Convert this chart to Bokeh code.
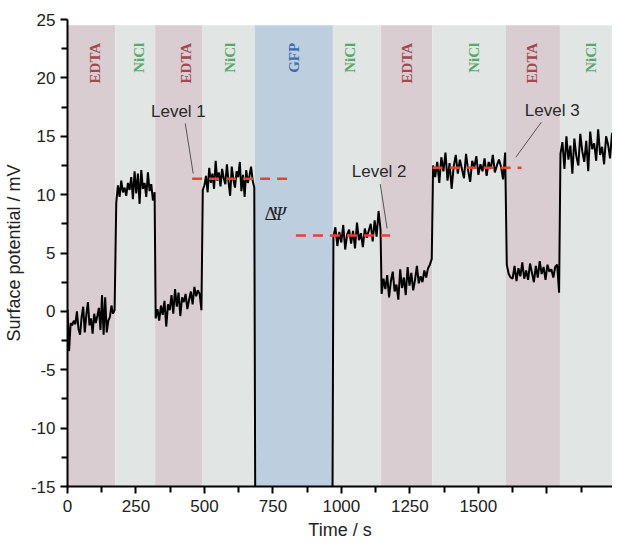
import numpy as np
from bokeh.plotting import figure
from bokeh.models import FixedTicker, Range1d
from bokeh.core.properties import value
from bokeh.embed import file_html
from bokeh.resources import INLINE

# ---------------- data ----------------
band_edges = [0, 174, 320, 491, 684, 969, 1145, 1332, 1601, 1798, 1988]
band_names = ["EDTA", "NiCl", "EDTA", "NiCl", "GFP", "NiCl", "EDTA", "NiCl", "EDTA", "NiCl"]
band_label_x = [100, 262, 434, 593, 826, 1033, 1238, 1485, 1695, 1912]

seg_start = [0, 178, 322, 494, 686, 971, 1147, 1335, 1604, 1800]
seg_end = [172, 318, 489, 682, 967, 1143, 1330, 1598, 1795, 2010]
seg_values = [
    [0.2, -3.4, -1.0, -1.2, -0.8, -1.1, 0.0, -1.5, -2.0, -0.5, 0.4, -1.8, -0.3, 0.8, -1.2, -0.6,
     -1.9, -0.2, -1.0, -0.4, 0.3, -1.6, 1.4, -2.0, 1.2, -1.8, -0.8, -0.5, 0.5, -0.2, 0.1],
    [9.3, 10.8, 9.8, 11.2, 10.2, 10.6, 9.9, 11.0, 10.4, 11.5, 9.6, 12.0, 10.1, 11.8, 9.2, 12.1,
     10.5, 11.0, 9.8, 11.9, 10.3, 10.9, 9.5, 10.2],
    [-0.6, 0.2, -0.8, 0.5, -0.3, 0.9, -1.3, 0.6, 0.1, 1.4, -0.2, 1.9, 0.4, 1.6, -0.4, 1.2, 0.8,
     1.5, 0.2, 1.0, 1.7, 0.6, 2.1, 1.3, 1.8, 1.5, 0.1],
    [10.4, 10.8, 11.6, 10.2, 12.3, 11.0, 11.8, 10.5, 12.9, 11.2, 11.9, 10.7, 12.2, 11.4, 10.9,
     12.6, 11.1, 9.9, 12.4, 11.3, 10.6, 12.0, 11.5, 12.8, 10.3, 11.7, 9.8, 12.1, 11.0, 11.6,
     12.4, 11.2, 10.6],
    [-20, -20],
    [6.4, 7.2, 5.6, 6.8, 5.9, 7.4, 5.3, 6.6, 7.0, 5.8, 6.9, 5.4, 7.6, 6.1, 6.7, 5.5, 7.1, 6.3,
     6.9, 7.5, 6.0, 7.8, 6.4, 8.6, 7.0],
    [1.5, 2.8, 1.9, 3.1, 1.2, 2.6, 3.4, 1.7, 2.3, 1.0, 3.6, 2.0, 2.9, 1.4, 3.8, 2.2, 3.3, 1.8,
     2.7, 3.9, 2.4, 3.0, 2.5, 3.5, 2.9, 3.7, 4.0, 4.5],
    [12.5, 11.5, 12.8, 11.0, 13.2, 12.0, 13.6, 11.2, 12.7, 10.5, 12.4, 13.4, 11.8, 13.0, 12.2,
     11.4, 13.5, 12.1, 11.1, 12.9, 12.3, 13.3, 11.7, 12.6, 12.0, 13.1, 11.6, 12.8, 12.2, 13.4,
     11.9, 12.5, 13.0, 12.4, 11.3, 13.6],
    [4.0, 3.2, 2.9, 2.8, 3.9, 2.6, 3.7, 3.0, 4.2, 2.8, 3.5, 2.7, 4.1, 3.3, 2.5, 3.9, 2.9, 4.3,
     3.2, 3.8, 2.7, 4.0, 3.4, 3.6, 2.9, 3.8, 4.0, 1.6],
    [13.5, 14.5, 12.2, 15.0, 13.0, 14.2, 11.8, 14.8, 13.3, 12.5, 15.2, 13.7, 12.8, 14.6, 12.0,
     15.4, 13.9, 14.4, 12.9, 15.6, 13.4, 14.1, 12.6, 15.0, 14.3, 13.1, 15.3, 13.8, 14.7, 14.0],
]

level_names = ["Level 1", "Level 2", "Level 3"]
level_values = [11.35, 6.5, 12.3]
level_x0 = [455, 834, 1333]
level_x1 = [802, 1178, 1658]

x_ticks = [0, 250, 500, 750, 1000, 1250, 1500, 1750, 2000]
x_minor = [125, 375, 625, 875, 1125, 1375, 1625, 1875]
y_ticks = [-15, -10, -5, 0, 5, 10, 15, 20, 25]
y_minor = [-12.5, -7.5, -2.5, 2.5, 7.5, 12.5, 17.5, 22.5]

# ---------------- styles ----------------
band_fill = {"EDTA": "#d9cdd2", "NiCl": "#e1e6e4", "GFP": "#bdcfdf"}
band_text = {"EDTA": "#a3484f", "NiCl": "#5aa96c", "GFP": "#3d6cb0"}
SANS = "Liberation Sans"

p = figure(width=612, height=542, output_backend="svg", toolbar_location=None,
           x_range=Range1d(0, 1990), y_range=Range1d(-15, 25),
           min_border_left=62, min_border_right=0, min_border_top=19, min_border_bottom=54)
p.outline_line_color = None
p.grid.visible = False
p.background_fill_color = "white"

# bands
p.quad(left=band_edges[:-1], right=band_edges[1:], bottom=-15, top=24.5,
       fill_color=[band_fill[n] for n in band_names], line_color=None)

# band labels
p.text(x=band_label_x, y=[23.0] * len(band_names), text=band_names,
       angle=np.pi / 2, text_align="right", text_baseline="middle",
       text_font=value("Liberation Serif"), text_font_style="bold", text_font_size="15px",
       text_color=[band_text[n] for n in band_names])

# signal
t = np.concatenate([np.linspace(a, b, len(v)) for a, b, v in zip(seg_start, seg_end, seg_values)])
y = np.concatenate([np.array(v, dtype=float) for v in seg_values])
p.line(t, y, line_color="black", line_width=2)

# level dashes
p.segment(x0=level_x0, y0=level_values, x1=level_x1, y1=level_values,
          line_color="#e8432d", line_width=2.5, line_dash="10 7")

# level labels and leaders
lab_x = [405, 1138, 1770]
lab_y = [17.1, 12.0, 17.2]
p.text(x=lab_x, y=lab_y, text=level_names, text_align="center", text_baseline="middle",
       text_font=value(SANS), text_font_size="17px", text_color="#2a2a2a")
p.segment(x0=[430, 1142, 1730], y0=[16.1, 10.9, 16.2], x1=[459, 1167, 1637], y1=[11.8, 7.1, 13.2],
          line_color="#555555", line_width=1)

# Delta Psi
p.text(x=[742], y=[8.4], text=["Δ"], text_align="center", text_baseline="middle",
       text_font=value("Liberation Serif"), text_font_size="19px", text_color="#222222")
p.text(x=[773], y=[8.4], text=["Ψ"], text_align="center", text_baseline="middle",
       text_font=value("Liberation Serif"), text_font_style="italic", text_font_size="19px",
       text_color="#222222")

# axes
xa = p.xaxis[0]
xa.ticker = FixedTicker(ticks=x_ticks, minor_ticks=x_minor)
xa.major_label_overrides = {1750: "", 2000: ""}
xa.axis_label = "Time / s"
ya = p.yaxis[0]
ya.ticker = FixedTicker(ticks=y_ticks, minor_ticks=y_minor)
ya.major_label_overrides = {v: str(v) for v in y_ticks}
ya.axis_label = "Surface potential / mV"
for ax in (xa, ya):
    ax.axis_line_width = 2
    ax.axis_line_color = "black"
    ax.major_tick_line_width = 2
    ax.minor_tick_line_width = 2
    ax.major_tick_in = 0
    ax.major_tick_out = 7
    ax.minor_tick_in = 0
    ax.minor_tick_out = 6
    ax.major_label_text_font = SANS
    ax.major_label_text_font_size = "17px"
    ax.major_label_text_color = "#222222"
    ax.axis_label_text_font = SANS
    ax.axis_label_text_font_size = "18px"
    ax.axis_label_text_font_style = "normal"
    ax.axis_label_text_color = "#222222"
xa.major_label_standoff = 6
xa.axis_label_standoff = 5
ya.major_label_standoff = 5
ya.axis_label_standoff = 4

open("out.html", "w").write(file_html(p, INLINE))
